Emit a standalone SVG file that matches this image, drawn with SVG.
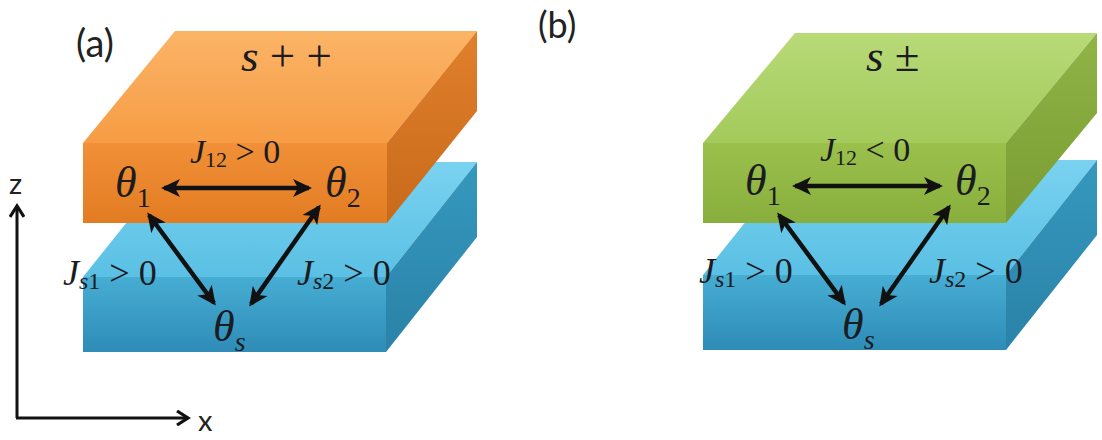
<svg xmlns="http://www.w3.org/2000/svg" width="1102" height="440" viewBox="0 0 1102 440">
<style>
.lbl{font-family:"Lato","Liberation Sans",sans-serif;fill:#222}
.m{font-family:"Liberation Serif","DejaVu Serif",serif;fill:#1b1b22}
.it{font-style:italic}
.conn{stroke:#111;stroke-width:4.5;fill:none;marker-start:url(#ah);marker-end:url(#ah)}
.axis{stroke:#111;stroke-width:3;fill:none;marker-end:url(#ax)}
</style>
<defs>
<marker id="ah" viewBox="0 0 20 20" refX="16" refY="10" markerWidth="20" markerHeight="20" markerUnits="userSpaceOnUse" orient="auto-start-reverse">
<path d="M0,1 L19,10 L0,19 L5,10 z" fill="#111"/>
</marker>
<marker id="ax" viewBox="0 0 16 16" refX="13" refY="8" markerWidth="16" markerHeight="16" markerUnits="userSpaceOnUse" orient="auto">
<path d="M2,1 L13,8 L2,15" fill="none" stroke="#111" stroke-width="3.2"/>
</marker>
<linearGradient id="oTop" x1="0" y1="0" x2="0" y2="1"><stop offset="0" stop-color="#FBB466"/><stop offset="1" stop-color="#F69C45"/></linearGradient>
<linearGradient id="oFront" x1="0" y1="0" x2="0" y2="1"><stop offset="0" stop-color="#F19038"/><stop offset="1" stop-color="#E27C22"/></linearGradient>
<linearGradient id="oSide" x1="0" y1="0" x2="0" y2="1"><stop offset="0" stop-color="#E0802C"/><stop offset="1" stop-color="#C96A1B"/></linearGradient>
<linearGradient id="bTop" x1="0" y1="0" x2="0" y2="1"><stop offset="0" stop-color="#7AD2F0"/><stop offset="1" stop-color="#5AC0E4"/></linearGradient>
<linearGradient id="bFront" x1="0" y1="0" x2="0" y2="1"><stop offset="0" stop-color="#47ADD3"/><stop offset="1" stop-color="#2E8CB7"/></linearGradient>
<linearGradient id="bSide" x1="0" y1="0" x2="0" y2="1"><stop offset="0" stop-color="#3698BE"/><stop offset="1" stop-color="#2A82A8"/></linearGradient>
<linearGradient id="gTop" x1="0" y1="0" x2="0" y2="1"><stop offset="0" stop-color="#B8DA78"/><stop offset="1" stop-color="#A3CA5B"/></linearGradient>
<linearGradient id="gFront" x1="0" y1="0" x2="0" y2="1"><stop offset="0" stop-color="#9BC04C"/><stop offset="1" stop-color="#88AE3D"/></linearGradient>
<linearGradient id="gSide" x1="0" y1="0" x2="0" y2="1"><stop offset="0" stop-color="#90B446"/><stop offset="1" stop-color="#7A9C33"/></linearGradient>
</defs>
<rect width="1102" height="440" fill="#fff"/>

<!-- Panel (a) -->
<g id="slab-a-bottom">
<polygon points="83,277 175,162 477,162 386,277" fill="url(#bTop)"/>
<rect x="83" y="277" width="303" height="75" fill="url(#bFront)"/>
<polygon points="386,277 477,162 477,237 386,352" fill="url(#bSide)"/>
</g>
<g id="slab-a-top">
<polygon points="83,143 175,31 477,31 387,143" fill="url(#oTop)"/>
<rect x="83" y="143" width="304" height="80" fill="url(#oFront)"/>
<polygon points="387,143 477,31 477,111 387,223" fill="url(#oSide)"/>
</g>

<!-- Panel (b) -->
<g id="slab-b-bottom">
<polygon points="703,275 795,160 1097,160 1006,275" fill="url(#bTop)"/>
<rect x="703" y="275" width="303" height="75" fill="url(#bFront)"/>
<polygon points="1006,275 1097,160 1097,235 1006,350" fill="url(#bSide)"/>
</g>
<g id="slab-b-top">
<polygon points="703,143 795,33 1097,33 1006,143" fill="url(#gTop)"/>
<rect x="703" y="143" width="303" height="80" fill="url(#gFront)"/>
<polygon points="1006,143 1097,33 1097,113 1006,223" fill="url(#gSide)"/>
</g>

<g id="connectors">
<line class="conn" x1="164" y1="188" x2="309" y2="188"/>
<line class="conn" x1="149" y1="215" x2="214" y2="303"/>
<line class="conn" x1="319" y1="207" x2="251" y2="304"/>
<line class="conn" x1="795" y1="186" x2="940" y2="186"/>
<line class="conn" x1="779" y1="215" x2="844" y2="303"/>
<line class="conn" x1="949" y1="207" x2="881" y2="304"/>
<line class="axis" x1="17" y1="418" x2="17" y2="206"/>
<line class="axis" x1="16" y1="418" x2="188" y2="418"/>
</g>

<g id="labels">
<text class="lbl" x="76" y="57" font-size="38">(a)</text>
<text class="lbl" x="538" y="38" font-size="36">(b)</text>
<text class="lbl" x="9" y="194" font-size="29">z</text>
<text class="lbl" x="198" y="431" font-size="29">x</text>
<text class="m" x="241" y="71" font-size="45"><tspan class="it">s</tspan> + +</text>
<text class="m" x="866" y="71" font-size="45"><tspan class="it">s</tspan> ±</text>
<text class="m" x="190" y="163" font-size="34"><tspan class="it">J</tspan><tspan font-size="22" dy="4">12</tspan><tspan dy="-4"> &gt; 0</tspan></text>
<text class="m" x="820" y="161" font-size="34"><tspan class="it">J</tspan><tspan font-size="22" dy="4">12</tspan><tspan dy="-4"> &lt; 0</tspan></text>
<text class="m" x="63" y="285" font-size="36" fill="#14243a"><tspan class="it">J</tspan><tspan font-size="24" dy="4"><tspan class="it">s</tspan>1</tspan><tspan dy="-4"> &gt; 0</tspan></text>
<text class="m" x="297" y="285" font-size="36" fill="#14243a"><tspan class="it">J</tspan><tspan font-size="24" dy="4"><tspan class="it">s</tspan>2</tspan><tspan dy="-4"> &gt; 0</tspan></text>
<text class="m" x="699" y="283" font-size="36" fill="#14243a"><tspan class="it">J</tspan><tspan font-size="24" dy="4"><tspan class="it">s</tspan>1</tspan><tspan dy="-4"> &gt; 0</tspan></text>
<text class="m" x="929" y="283" font-size="36" fill="#14243a"><tspan class="it">J</tspan><tspan font-size="24" dy="4"><tspan class="it">s</tspan>2</tspan><tspan dy="-4"> &gt; 0</tspan></text>
</g>

<g id="node-a-theta1"><text class="m" x="115" y="197" font-size="44"><tspan class="it">θ</tspan><tspan font-size="28" dy="10">1</tspan></text></g>
<g id="node-a-theta2"><text class="m" x="325" y="197" font-size="44"><tspan class="it">θ</tspan><tspan font-size="28" dy="10">2</tspan></text></g>
<g id="node-a-thetas"><text class="m" x="213" y="341" font-size="44" fill="#14243a"><tspan class="it">θ</tspan><tspan class="it" font-size="28" dy="10">s</tspan></text></g>
<g id="node-b-theta1"><text class="m" x="745" y="195" font-size="44"><tspan class="it">θ</tspan><tspan font-size="28" dy="10">1</tspan></text></g>
<g id="node-b-theta2"><text class="m" x="955" y="195" font-size="44"><tspan class="it">θ</tspan><tspan font-size="28" dy="10">2</tspan></text></g>
<g id="node-b-thetas"><text class="m" x="842" y="339" font-size="44" fill="#14243a"><tspan class="it">θ</tspan><tspan class="it" font-size="28" dy="10">s</tspan></text></g>
</svg>
